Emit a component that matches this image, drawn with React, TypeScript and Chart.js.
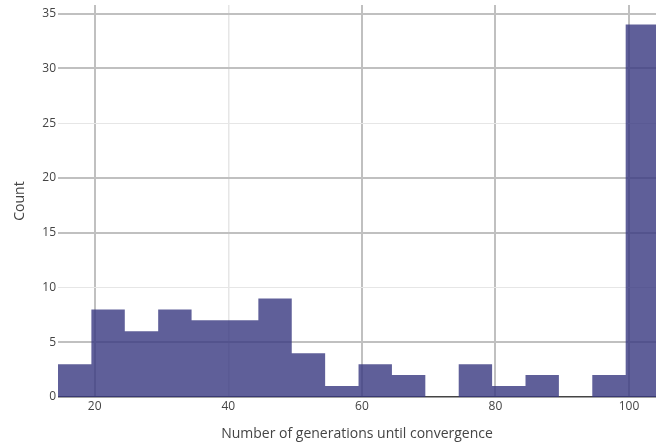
import React, { useEffect, useRef } from "react";
import { Chart, registerables } from "chart.js";

Chart.register(...registerables);

// Histogram bins (width 5), left edges
const binStarts = [14.5, 19.5, 24.5, 29.5, 34.5, 39.5, 44.5, 49.5, 54.5, 59.5, 64.5, 69.5, 74.5, 79.5, 84.5, 89.5, 94.5, 99.5];
const binWidth = 5;
const counts = [3, 8, 6, 8, 7, 7, 9, 4, 1, 3, 2, 0, 3, 1, 2, 0, 2, 34];
const xTicks = [20, 40, 60, 80, 100];
const yTicks = [0, 5, 10, 15, 20, 25, 30, 35];
const xLightGrid = [40];
const yLightGrid = [10, 25];

const xTitle = "Number of generations until convergence";
const yTitle = "Count";

export default function App() {
  const ref = useRef<HTMLCanvasElement | null>(null);

  useEffect(() => {
    document.body.style.margin = "0";
    const canvas = ref.current;
    if (!canvas) return;
    const font = "'Open Sans', 'Noto Sans', sans-serif";
    // Histogram outline as a step function over the bin edges (one filled shape, no seams)
    const data = binStarts.map((s, i) => ({ x: s, y: counts[i] }));
    data.push({ x: binStarts[binStarts.length - 1] + binWidth, y: counts[counts.length - 1] });
    const chart = new Chart(canvas, {
      type: "line",
      data: {
        datasets: [
          {
            data: data as any,
            stepped: "before",
            fill: "origin",
            backgroundColor: "rgba(55,55,128,0.8)",
            borderWidth: 0,
            borderColor: "rgba(0,0,0,0)",
            pointRadius: 0,
            pointHoverRadius: 0,
          } as any,
        ],
      },
      options: {
        animation: false,
        responsive: false,
        maintainAspectRatio: false,
        layout: { padding: { left: 0, right: 0, top: 5, bottom: 0 } },
        plugins: { legend: { display: false }, tooltip: { enabled: false }, filler: { propagate: false } },
        scales: {
          x: {
            type: "linear",
            min: 14.5,
            max: 104.04,
            offset: false,
            afterBuildTicks: (axis: any) => {
              axis.ticks = xTicks.map((v) => ({ value: v }));
            },
            afterFit: (axis: any) => {
              axis.height = 48;
              axis.paddingLeft = 0;
              axis.paddingRight = 0;
            },
            border: { display: false },
            grid: {
              offset: false,
              drawTicks: false,
              color: (c: any) => (xLightGrid.includes(c.tick?.value) ? "#e6e6e6" : "#c0c0c0"),
              lineWidth: (c: any) => (xLightGrid.includes(c.tick?.value) ? 1.5 : 2),
            },
            ticks: {
              padding: 2,
              maxRotation: 0,
              color: "#444",
              font: { family: font, size: 12 },
            },
            title: {
              display: true,
              text: xTitle,
              color: "#444",
              font: { family: font, size: 14 },
              padding: { top: 0, bottom: 3 },
            },
          },
          y: {
            type: "linear",
            min: 0,
            max: 35.79,
            afterBuildTicks: (axis: any) => {
              axis.ticks = yTicks.map((v) => ({ value: v }));
            },
            afterFit: (axis: any) => {
              axis.width = 58;
              axis.paddingTop = 0;
              axis.paddingBottom = 0;
            },
            border: { display: false },
            grid: {
              drawTicks: false,
              color: (c: any) => {
                const v = c.tick?.value;
                if (v === 0) return "#444";
                return yLightGrid.includes(v) ? "#e6e6e6" : "#c0c0c0";
              },
              lineWidth: (c: any) => {
                const v = c.tick?.value;
                if (v === 0) return 1.5;
                return yLightGrid.includes(v) ? 1 : 2;
              },
            },
            ticks: {
              padding: 2,
              color: "#444",
              font: { family: font, size: 12 },
            },
            title: {
              display: true,
              text: yTitle,
              color: "#444",
              font: { family: font, size: 14 },
              padding: { top: 12, bottom: 0 },
            },
          },
        },
      },
    });
    return () => chart.destroy();
  }, []);

  return (
    <div style={{ width: 656, height: 445, background: "#fff" }}>
      <canvas ref={ref} width={656} height={445} style={{ display: "block" }} />
    </div>
  );
}
